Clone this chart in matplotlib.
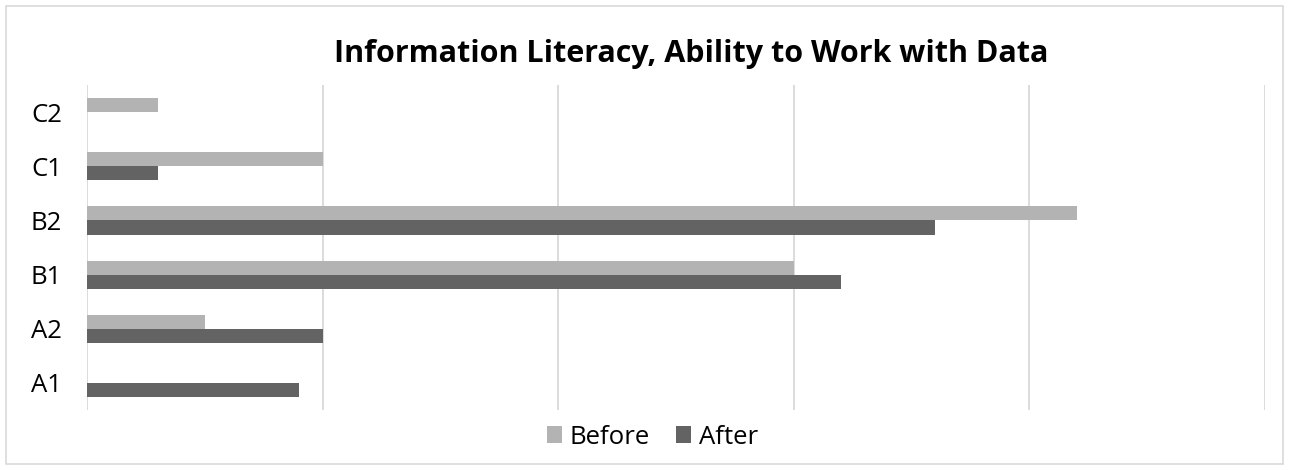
import matplotlib.pyplot as plt
from matplotlib.patches import Rectangle
import numpy as np

categories = ['A1', 'A2', 'B1', 'B2', 'C1', 'C2']
before = [0, 5, 30, 42, 10, 3]
after = [9, 10, 32, 36, 3, 0]

plt.rcParams['font.family'] = ['Open Sans', 'DejaVu Sans']

fig = plt.figure(figsize=(12.89, 4.70), dpi=100)
ax = fig.add_axes([0.0675, 0.1277, 0.9139, 0.6913])

y = np.arange(len(categories))
h = 0.26
ax.barh(y + h / 2, before, height=h, color='#b3b3b3', label='Before', zorder=3)
ax.barh(y - h / 2, after, height=h, color='#636363', label='After', zorder=3)

ax.set_xlim(0, 50)
ax.set_ylim(-0.5, 5.5)
ax.set_xticks([0, 10, 20, 30, 40, 50])
ax.set_xticklabels([])
ax.tick_params(axis='x', length=0)
ax.tick_params(axis='y', length=0, labelsize=18.5, pad=18)
ax.set_yticks(y)
ax.set_yticklabels(categories)
ax.grid(axis='x', color='#d9d9d9', linewidth=1.3, zorder=0)
for s in ax.spines.values():
    s.set_visible(False)

fig.text(0.536, 0.885, 'Information Literacy, Ability to Work with Data',
         ha='center', va='center', fontsize=22, fontweight='bold')

fig.legend(loc='center', bbox_to_anchor=(0.506, 0.07), ncol=2, frameon=False,
           fontsize=18.5, handlelength=0.6, handleheight=0.6, handletextpad=0.3,
           columnspacing=1.0)

fig.patches.append(Rectangle((6 / 1289, 6 / 470), 1277 / 1289, 458 / 470,
                             transform=fig.transFigure, fill=False,
                             edgecolor='#d9d9d9', linewidth=1.2))

fig.savefig('out.png', dpi=100)
